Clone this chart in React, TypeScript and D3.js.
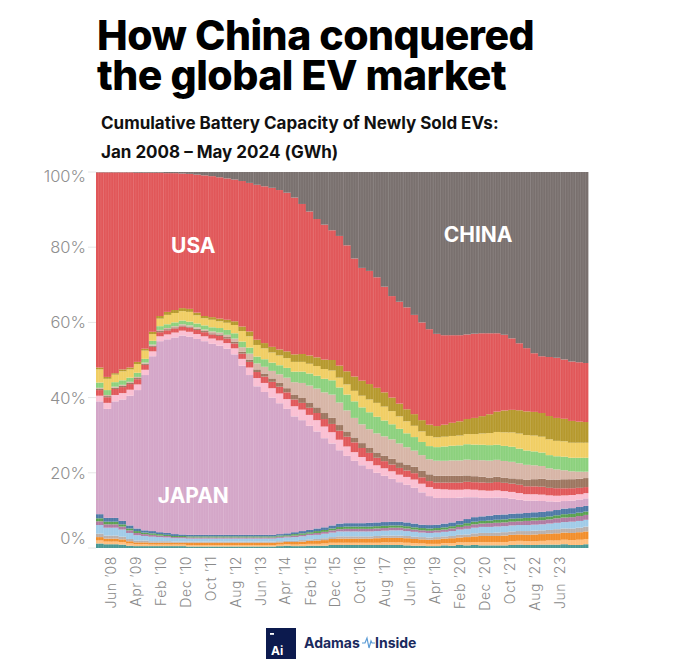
import React, { useEffect, useRef } from "react";
import * as d3 from "d3";

// quarterly cumulative share (%) of battery capacity, Q1 2008 .. Q2 2024
const china = [0.1,0.1,0.1,0.1,0.1,0.2,0.2,0.2,0.2,0.3, 0.3,0.4,0.5,0.7,0.9,1.1,1.4,1.7,2.0,2.4, 2.9,3.4,3.8,4.2,4.8,5.5,6.8,8.5,10.5,12.5, 14.0,15.5,17.0,19.5,23.0,25.5,26.3,28.0,30.5,33.0, 34.5,36.0,38.0,40.0,41.8,43.0,43.4,43.4,43.4,43.2, 43.0,42.8,42.8,42.8,43.2,44.2,45.5,46.8,48.2,49.0, 49.2,49.4,49.9,50.4,50.6,50.8];
const usa = [51.9,54.4,53.4,52.4,51.9,50.3,46.8,42.3,38.1,36.9, 36.4,35.8,35.9,36.7,37.4,37.5,37.6,37.6,37.7,38.7, 39.5,41.2,41.7,42.3,42.4,42.2,41.7,39.9,38.3,36.8, 35.9,34.5,34.5,33.5,31.4,30.0,30.1,29.4,28.1,27.0, 27.1,27.1,26.4,26.0,25.4,24.5,23.8,23.3,22.9,22.5, 22.4,22.0,21.5,20.8,20.1,19.0,17.8,16.8,15.6,15.1, 15.7,16.0,15.8,15.8,15.8,15.7];
const olive = [0.5,0.5,0.4,0.5,0.5,0.6, 0.5,0.6,0.7,0.8,0.8,0.8,0.8,0.7,0.6,0.7,0.7,0.8,1.0, 1.2,1.3,1.4,1.4,1.5,1.6,1.8,2.0,2.1,2.2,2.3,2.5, 2.8,3.2,3.5,3.8,4.0,4.1,4.0,3.8,3.6,3.4,3.2,3.1,3.0,3.0, 3.0,3.2,3.5,3.8,4.0,4.3,4.6,5.0,5.4,5.8,6.0,6.2,6.3,6.3,6.3,6.2,6.1,6.0,5.8,5.6,5.5];
const yellow = [3.5,3.0,2.0,2.4,2.2,2.3, 2.2,1.8,2.0,2.5,2.5,2.5,2.6,2.2,1.9,2.0,1.8,1.9,2.2, 2.8,3.0,3.1,2.9,2.7,2.6,2.6,2.6,2.6,2.6,2.6,2.6, 2.6,2.6,2.7,2.8,3.1,3.4,3.7,3.7,3.5,3.3,3.2,3.0,2.8,2.7, 2.6,2.6,2.6,2.6,2.7,2.8,3.0,3.2,3.4,3.6,3.8,4.0,4.1,4.2,4.2,4.2,4.1,4.1,4.0,4.0,4.0];
const lightGreen = [1.4,1.3,1.2,1.2,1.1,1.1, 1.0,1.0,1.0,1.0,1.0,1.0,1.0,1.0,1.1,1.1,1.2,1.3,1.4, 1.5,1.6,1.8,2.0,2.2,2.4,2.6,2.8,3.0,3.2,3.4,3.6, 3.8,4.0,4.2,4.4,4.5,4.5,4.4,4.2,4.0,3.9,3.7,3.6,3.5,3.5, 3.6,3.8,3.9,4.0,4.1,4.1,4.1,4.1,4.0,4.0,4.0,3.9,3.8,3.7,3.6,3.5,3.5,3.6,3.6,3.7,3.7];
const tan = [0.3,0.3,0.3,0.3,0.3,0.3, 0.3,0.3,0.3,0.3,0.3,0.3,0.3,0.4,0.4,0.5,0.5,0.6,0.8, 1.2,1.6,1.6,1.8,2.0,2.3,2.8,3.4,4.0,4.5,5.0,5.5, 6.2,6.0,5.6,5.2,5.0,5.0,5.1,5.2,5.2,5.0,4.6,4.3,4.1,4.0, 4.0,4.0,4.1,4.1,4.2,4.3,4.4,4.5,4.5,4.5,4.4,4.2,4.0,3.7,3.4,3.0,2.7,2.4,2.1,1.9,1.7];
const brown = [0.3,0.3,0.3,0.3,0.3,0.3, 0.3,0.3,0.3,0.3,0.3,0.3,0.3,0.3,0.3,0.3,0.4,0.4,0.5, 0.5,0.6,0.7,0.8,0.9,1.0,1.1,1.2,1.3,1.4,1.5,1.6, 1.6,1.5,1.4,1.3,1.3,1.3,1.4,1.4,1.5,1.5,1.6,1.7,1.8,1.8, 1.8,1.8,1.8,1.8,1.7,1.6,1.5,1.4,1.4,1.3,1.4,1.5,1.7,1.9,2.1,2.2,2.3,2.4,2.4,2.4,2.4];
const red = [1.5,1.5,1.6,1.6,1.5,1.4, 1.3,1.2,1.1,1.1,1.1,1.1,1.1,1.1,1.1,1.1,1.2,1.2,1.3, 1.4,1.5,1.6,1.7,1.7,1.8,1.8,1.8,1.8,1.9,1.9,2.0, 2.2,2.4,2.6,2.6,2.4,2.2,2.0,1.9,1.8,1.8,1.7,1.7,1.7,1.6, 1.7,1.8,1.9,1.9,2.0,2.0,2.1,2.1,2.2,2.2,2.2,2.2,2.1,2.1,2.1,2.0,2.0,1.9,1.8,1.7,1.6];
const pink = [1.5,1.6,1.7,1.7,1.6,1.5, 1.4,1.3,1.3,1.3,1.3,1.3,1.3,1.3,1.3,1.4,1.4,1.5,1.6, 1.8,2.0,2.2,2.4,2.5,2.6,2.6,2.7,2.8,2.9,3.0,3.1, 3.0,2.8,2.5,2.3,2.2,2.1,2.0,2.0,2.0,2.0,2.1,2.2,2.3,2.4, 2.4,2.3,2.2,2.1,2.1,2.0,2.0,1.9,1.9,1.8,1.8,1.8,1.7,1.7,1.7,1.6,1.6,1.5,1.5,1.4,1.4];
const japan = [30,29,31,32.3,34.5,36.8,41.3,46.5,50.8,51.5, 52.3,52.9,52.7,52.1,51.5,50.8,50.3,49.5,48,45, 42.5,39.5,38,36.5,34.8,33.1,30.8,29.5,27.7,25.8, 23.7,21.8,19.5,17.9,16.6,15.4,14.3,13.2,12.3,11.4, 10.5,10,9.5,8.6,7.7,7.1,6.8,6.5,6.2,5.8, 5.3,4.9,4.7,4.6,4.4,4.0,3.6,3.3,3.1,2.9, 2.6,2.2,2.0,2.0,2.0,2.0];
const blue = [1.1,1.0,1.0,0.9,0.8,0.7,0.6,0.6,0.5,0.5,0.5,0.4, 0.4,0.4,0.4,0.4,0.4,0.4,0.4,0.4,0.4,0.4,0.4,0.4, 0.4,0.5,0.5,0.6,0.6,0.7,0.7,0.8,0.9,0.9,0.9,0.9, 1.0,1.0,1.0,1.0,1.0,1.0,1.0,0.9,0.9,0.9,1.0,1.0, 1.0,1.1,1.2,1.2,1.3,1.3,1.3,1.3,1.3,1.3,1.4,1.4,1.4,1.4,1.5,1.5,1.5,1.5];
const green = [0.8,0.7,0.7,0.6,0.5,0.5,0.4,0.4,0.4,0.3,0.3,0.3, 0.3,0.3,0.3,0.3,0.3,0.3,0.3,0.3,0.3,0.3,0.3,0.3, 0.3,0.3,0.4,0.4,0.4,0.5,0.5,0.5,0.6,0.6,0.6,0.6, 0.6,0.6,0.6,0.6,0.6,0.6,0.6,0.6,0.6,0.6,0.6,0.6, 0.6,0.7,0.7,0.7,0.7,0.8,0.8,0.8,0.8,0.8,0.8,0.8,0.8,0.8,0.9,0.9,0.9,0.9];
const purple = [1.0,0.9,0.9,0.8,0.7,0.6,0.5,0.5,0.4,0.4,0.3,0.3, 0.3,0.3,0.3,0.3,0.3,0.3,0.3,0.3,0.3,0.3,0.3,0.3, 0.3,0.3,0.4,0.4,0.4,0.5,0.5,0.6,0.6,0.7,0.7,0.7, 0.7,0.7,0.7,0.7,0.7,0.7,0.6,0.6,0.6,0.6,0.6,0.7, 0.7,0.8,0.9,0.9,1.0,1.0,1.0,1.0,1.0,1.1,1.1,1.1,1.1,1.2,1.2,1.2,1.3,1.3];
const lightBlue = [2.3,2.1,2.1,1.9,1.6,1.4,1.2,1.2,1.1,1.0,0.9,0.9, 0.8,0.8,0.8,0.8,0.8,0.8,0.8,0.8,0.8,0.8,0.8,0.8, 0.9,0.9,1.0,1.0,1.1,1.1,1.2,1.2,1.3,1.3,1.3,1.3, 1.3,1.3,1.3,1.4,1.4,1.3,1.3,1.2,1.2,1.2,1.2,1.3, 1.4,1.5,1.5,1.6,1.6,1.6,1.6,1.6,1.6,1.6,1.6,1.6,1.7,1.7,1.7,1.8,1.8,1.8];
const lightGray = [0.9,0.8,0.8,0.7,0.6,0.5,0.5,0.4,0.4,0.4,0.3,0.3, 0.3,0.3,0.3,0.3,0.3,0.3,0.3,0.3,0.3,0.3,0.3,0.3, 0.3,0.3,0.3,0.4,0.4,0.4,0.5,0.5,0.6,0.6,0.6,0.6, 0.6,0.6,0.6,0.6,0.6,0.6,0.6,0.6,0.6,0.6,0.6,0.6, 0.7,0.7,0.8,0.8,0.8,0.9,0.9,0.9,0.9,1.0,1.0,1.0,1.0,1.1,1.1,1.2,1.2,1.3];
const orange = [0.9,0.8,0.8,0.7,0.6,0.5,0.5,0.5,0.5,0.5,0.5,0.5, 0.6,0.6,0.6,0.6,0.6,0.6,0.6,0.6,0.6,0.6,0.6,0.6, 0.6,0.6,0.7,0.7,0.8,0.9,0.9,1.0,1.1,1.1,1.1,1.1, 1.1,1.2,1.2,1.2,1.2,1.2,1.1,1.1,1.1,1.2,1.2,1.3, 1.3,1.4,1.5,1.6,1.6,1.6,1.7,1.7,1.7,1.7,1.8,1.8,1.8,1.9,1.9,1.9,2.0,2.0];
const lightOrange = [0.8,0.7,0.7,0.7,0.6,0.5,0.5,0.4,0.4,0.4,0.4,0.4, 0.4,0.4,0.4,0.4,0.4,0.4,0.4,0.4,0.4,0.4,0.4,0.4, 0.4,0.4,0.4,0.5,0.5,0.5,0.6,0.6,0.6,0.6,0.6,0.6, 0.6,0.6,0.7,0.7,0.7,0.7,0.7,0.6,0.6,0.6,0.6,0.7, 0.7,0.8,0.8,0.9,0.9,0.9,0.9,1.0,1.0,1.0,1.0,1.0,1.1,1.1,1.2,1.3,1.4,1.4];
const teal = [1.2,1.0,1.0,0.9,0.6,0.5,0.5,0.5,0.5,0.5,0.5,0.5, 0.4,0.4,0.4,0.4,0.4,0.4,0.4,0.4,0.4,0.4,0.4,0.4, 0.5,0.6,0.5,0.5,0.6,0.6,0.6,0.8,0.8,0.8,0.8,0.8, 0.8,0.8,0.8,0.8,0.8,0.7,0.6,0.6,0.5,0.5,0.7,0.6, 0.8,0.7,0.8,0.7,0.7,0.7,0.7,0.8,0.9,0.8,0.8,0.9,0.9,0.9,1.0,0.8,0.8,1.0];

// stacking order, bottom to top
const series = [
  { key: "teal", values: teal, color: "#499894" },
  { key: "lightOrange", values: lightOrange, color: "#ffbe7d" },
  { key: "orange", values: orange, color: "#f28e2b" },
  { key: "lightGray", values: lightGray, color: "#bab0ac" },
  { key: "lightBlue", values: lightBlue, color: "#a0cbe8" },
  { key: "purple", values: purple, color: "#b07aa1" },
  { key: "green", values: green, color: "#59a14f" },
  { key: "blue", values: blue, color: "#4e79a7" },
  { key: "japan", values: japan, color: "#d4a6c8" },
  { key: "pink", values: pink, color: "#fabfd2" },
  { key: "red", values: red, color: "#e15759" },
  { key: "brown", values: brown, color: "#9d7660" },
  { key: "tan", values: tan, color: "#d7b5a6" },
  { key: "lightGreen", values: lightGreen, color: "#8cd17d" },
  { key: "yellow", values: yellow, color: "#f1ce63" },
  { key: "olive", values: olive, color: "#b6992d" },
  { key: "usa", values: usa, color: "#e15759" },
  { key: "china", values: china, color: "#79706e" },
];

const yTicks = [0, 0.2, 0.4, 0.6, 0.8, 1];
const tickLabels = ["Jun \u201908", "Apr \u201909", "Feb \u201910", "Dec \u201910", "Oct \u201911", "Aug \u201912", "Jun \u201913", "Apr \u201914", "Feb \u201915", "Dec \u201915", "Oct \u201916", "Aug \u201917", "Jun \u201918", "Apr \u201919", "Feb \u201920", "Dec \u201920", "Oct \u201921", "Aug \u201922", "Jun \u201923"];
const titleLines = ["How China conquered", "the global EV market"];
const subtitleLines = ["Cumulative Battery Capacity of Newly Sold EVs:", "Jan 2008 \u2013 May 2024 (GWh)"];
const regionLabels = [
  { text: "USA", quarter: 13, share: 0.785 },
  { text: "CHINA", quarter: 51, share: 0.815 },
  { text: "JAPAN", quarter: 13, share: 0.12 },
];

const start = new Date(2008, 0, 1);
const end = new Date(2024, 5, 1);

const App = () => {
  const ref = useRef(null);

  useEffect(() => {
    const width = 680;
    const height = 672;
    const margin = { top: 172, right: 92, bottom: 124, left: 96 };

    d3.select(ref.current).selectAll("*").remove();

    const svg = d3
      .select(ref.current)
      .append("svg")
      .attr("width", width)
      .attr("height", height)
      .style("position", "absolute")
      .style("left", 0)
      .style("top", 0)
      .style("background", "#fff")
      .style("font-family", "Inter, 'Noto Sans', sans-serif");

    const quarters = d3.timeMonth.every(3).range(start, end);
    const months = d3.timeMonth.range(start, end);

    const rows = quarters.map((d, i) => {
      const row = { date: d };
      series.forEach((s) => (row[s.key] = s.values[i]));
      return row;
    });

    const stack = d3
      .stack()
      .keys(series.map((s) => s.key))
      .offset(d3.stackOffsetExpand);

    const stacked = stack(rows);

    const x = d3.scaleTime().domain([start, end]).range([margin.left, width - margin.right]);
    const y = d3.scaleLinear().domain([0, 1]).range([height - margin.bottom, margin.top]);

    const nextQ = (d) => {
      const n = d3.timeMonth.offset(d, 3);
      return n > end ? end : n;
    };

    // title (one text block, two lines)
    svg.append("text")
      .attr("font-size", 41).attr("font-weight", 800)
      .attr("letter-spacing", -0.5)
      .attr("fill", "#000")
      .selectAll("tspan")
      .data(titleLines)
      .enter()
      .append("tspan")
      .attr("x", 97)
      .attr("y", (d, i) => 50 + i * 40)
      .text((d) => d);

    svg.append("text")
      .attr("font-size", 17).attr("font-weight", 700)
      .attr("fill", "#111")
      .selectAll("tspan")
      .data(subtitleLines)
      .enter()
      .append("tspan")
      .attr("x", 101)
      .attr("y", (d, i) => 129 + i * 29)
      .text((d) => d);

    // y axis labels + faint ticks
    const yAxis = svg.append("g");
    yAxis.selectAll("line")
      .data(yTicks)
      .enter()
      .append("line")
      .attr("x1", 88).attr("x2", margin.left)
      .attr("y1", (d) => y(d)).attr("y2", (d) => y(d))
      .attr("stroke", "#e6e6e6");
    yAxis.selectAll("text")
      .data(yTicks)
      .enter()
      .append("text")
      .attr("x", 86)
      .attr("y", (d) => Math.min(Math.max(y(d), 176), 538))
      .attr("dy", "0.36em")
      .attr("text-anchor", "end")
      .attr("font-size", 16.5)
      .attr("font-weight", 300)
      .attr("fill", "#8f8f8f")
      .text((d) => d3.format(".0%")(d));

    // stacked bars
    const layers = svg.append("g")
      .selectAll("g")
      .data(stacked)
      .enter()
      .append("g")
      .attr("fill", (d, i) => series[i].color);

    layers.selectAll("rect")
      .data((d) => d)
      .enter()
      .append("rect")
      .attr("x", (d) => x(d.data.date))
      .attr("width", (d) => x(nextQ(d.data.date)) - x(d.data.date) + 0.4)
      .attr("y", (d) => y(d[1]))
      .attr("height", (d) => Math.max(0, y(d[0]) - y(d[1])));

    // monthly bar stripes
    svg.append("g")
      .selectAll("line")
      .data(months.slice(1))
      .enter()
      .append("line")
      .attr("x1", (d) => x(d)).attr("x2", (d) => x(d))
      .attr("y1", y(1)).attr("y2", y(0))
      .attr("stroke", "#fff")
      .attr("stroke-width", 0.6)
      .attr("stroke-opacity", 0.16);

    // x axis tick labels, every 10th month from Jun 2008
    const tickMonths = months.filter((d, i) => i % 10 === 5).slice(0, tickLabels.length);
    svg.append("g")
      .selectAll("text")
      .data(tickMonths)
      .enter()
      .append("text")
      .attr("transform", (d) => `translate(${x(d3.timeDay.offset(d, 15)) + 6},556) rotate(-90)`)
      .attr("text-anchor", "end")
      .attr("font-size", 14)
      .attr("font-weight", 300)
      .attr("letter-spacing", 0.6)
      .attr("fill", "#8a8a8a")
      .text((d, i) => tickLabels[i]);

    // region labels
    svg.append("g")
      .selectAll("text")
      .data(regionLabels)
      .enter()
      .append("text")
      .attr("x", (d) => x(quarters[d.quarter]))
      .attr("y", (d) => y(d.share))
      .attr("text-anchor", "middle")
      .attr("font-size", 21)
      .attr("font-weight", 700)
      .attr("fill", "#fff")
      .text((d) => d.text);

    // logo
    const logo = svg.append("g");
    logo.append("rect")
      .attr("x", 266).attr("y", 628).attr("width", 30).attr("height", 31)
      .attr("fill", "#0c1a4e");
    logo.append("rect")
      .attr("x", 270).attr("y", 633).attr("width", 4).attr("height", 1.8)
      .attr("fill", "#fff");
    logo.append("text")
      .attr("x", 271).attr("y", 655)
      .attr("font-size", 12).attr("font-weight", 700)
      .attr("fill", "#fff")
      .text("Ai");
    logo.append("text")
      .attr("x", 304).attr("y", 648)
      .attr("font-size", 14).attr("font-weight", 700)
      .attr("fill", "#1a2a5e")
      .text("Adamas");
    logo.append("polyline")
      .attr("points", "362,643 365,643 367,638 369,648 371,641 372,643 375,643")
      .attr("fill", "none")
      .attr("stroke", "#5b9bd5")
      .attr("stroke-width", 1.2);
    logo.append("text")
      .attr("x", 375).attr("y", 648)
      .attr("font-size", 14).attr("font-weight", 700)
      .attr("fill", "#1a2a5e")
      .text("Inside");
  }, []);

  return <div ref={ref} style={{ width: 680, height: 672 }}></div>;
};

export default App;
